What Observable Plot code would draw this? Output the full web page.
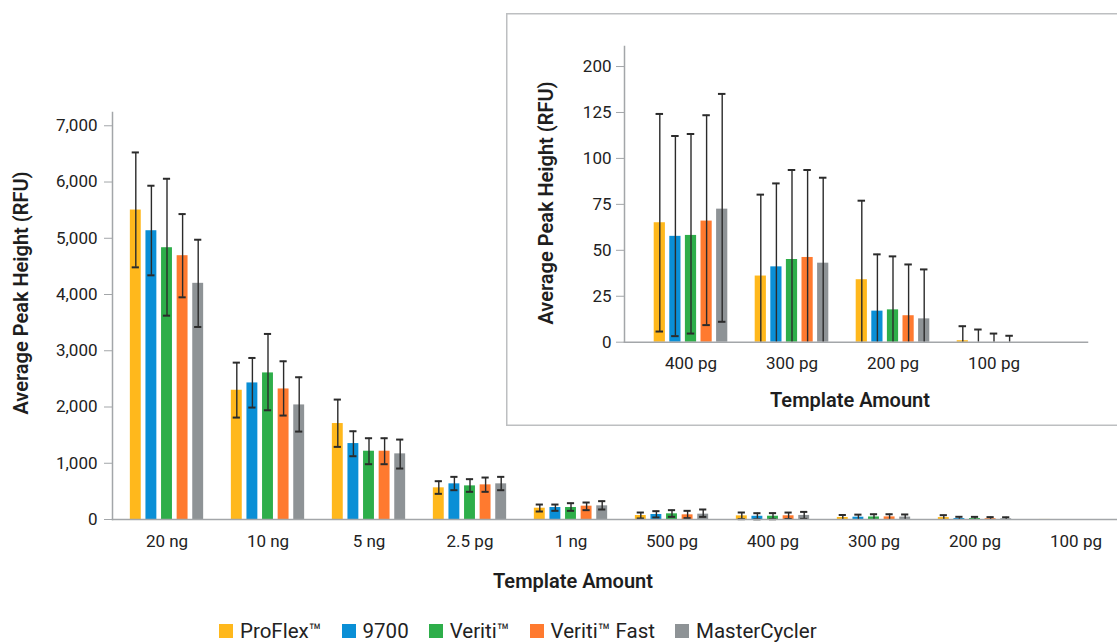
<!DOCTYPE html>
<html>
<head>
<meta charset="utf-8">
<script src="https://cdn.jsdelivr.net/npm/d3@7"></script>
<script src="https://cdn.jsdelivr.net/npm/@observablehq/plot@0.6"></script>
<style>
  html, body { margin: 0; padding: 0; background: #fff; }
  #wrap { position: relative; width: 1117px; height: 644px; overflow: hidden; font-family: Roboto, "Noto Sans", sans-serif; color: #222; }
  #main { position: absolute; left: 0; top: 0; }
  #inset { position: absolute; left: 506px; top: 13px; width: 640px; height: 413px; background: #fff; box-shadow: inset 0 0 0 1.5px #bdbfc1; }
  #insetplot { position: absolute; left: 0; top: 0; }
  .ttl { position: absolute; font-size: 20px; font-weight: 600; white-space: nowrap; transform: translate(-50%, -50%); color: #1e1e1e; }
  .rot { transform: translate(-50%, -50%) rotate(-90deg); }
  #legend { position: absolute; left: 219px; top: 620px; display: flex; align-items: center; height: 22px; line-height: 22px; font-size: 20.5px; color: #222; }
  .item { display: flex; align-items: center; margin-right: 20px; }
  .sw { width: 14px; height: 14px; margin-right: 7px; }
</style>
</head>
<body>
<div id="wrap">
  <div id="main"></div>
  <div class="ttl" style="left:573px; top:581px;">Template Amount</div>
  <div class="ttl rot" style="left:21px; top:293px;">Average Peak Height (RFU)</div>
  <div id="inset"><div id="insetplot"></div></div>
  <div class="ttl" style="left:850px; top:400px;">Template Amount</div>
  <div class="ttl rot" style="left:546px; top:203px;">Average Peak Height (RFU)</div>
  <div id="legend"></div>
</div>
<script>
// ---------- data ----------
const categories = ["20 ng","10 ng","5 ng","2.5 pg","1 ng","500 pg","400 pg","300 pg","200 pg","100 pg"];
const insetCategories = ["400 pg","300 pg","200 pg","100 pg"];
const series = ["ProFlex™","9700","Veriti™","Veriti™ Fast","MasterCycler"];
const colors = ["#FFB81C","#0A8FD6","#2EAE4A","#FF7A2F","#8E9396"];

const proflexMean = [5502,2298,1706,563,201,71,65,36,34,0.8];
const proflexLow  = [4483,1812,1291,456,142,18,5.8,0,0,0];
const proflexHigh = [6526,2789,2132,681,266,124,124.2,80.3,77,8.7];

const n9700Mean = [5134,2428,1350,634,213,89,57.6,41,16.9,0];
const n9700Low  = [4341,1990,1125,521,154,36,3.3,0,0,0];
const n9700High = [5934,2872,1569,758,266,148,112.2,86.4,47.8,6.9];

const veritiMean = [4832,2606,1214,598,213,101,58.1,45,17.6,0];
const veritiLow  = [3624,1942,983,492,154,47,4.7,0,0,0];
const veritiHigh = [6058,3299,1445,717,290,166,113.3,93.7,46.7,4.7];

const fastMean = [4690,2321,1214,616,237,83,65.9,46.1,14.4,0];
const fastLow  = [3950,1848,983,492,166,24,9.3,0,0,0];
const fastHigh = [5430,2813,1445,746,302,154,123.5,93.7,42.3,3.5];

const mcMean = [4199,2037,1167,634,243,95,72.4,43,12.7,null];
const mcLow  = [3423,1563,906,521,178,47,11.1,0,0,null];
const mcHigh = [4974,2529,1421,758,326,178,135.1,89.5,39.6,null];

const mainTicks = [0,1000,2000,3000,4000,5000,6000,7000];
const insetTicks = [0,25,50,75,100,125,150];
const insetTickLabels = ["0","25","50","75","100","125","200"];

const means = [proflexMean, n9700Mean, veritiMean, fastMean, mcMean];
const lows  = [proflexLow, n9700Low, veritiLow, fastLow, mcLow];
const highs = [proflexHigh, n9700High, veritiHigh, fastHigh, mcHigh];

// ---------- chart builder ----------
function chart({cats, width, height, marginLeft, marginRight, marginTop, marginBottom, yDomain, yTicks, yFormat, xRange, yTickPadding, minCap}) {
  const step = (xRange[1] - xRange[0]) / cats.length;
  const barW = 11.7, gap = 15.6, capW = 8;
  const marks = [];
  const perSeries = series.map((s, j) => cats.map(c => {
    const i = categories.indexOf(c);
    return {cat: c, series: s, mean: means[j][i], low: lows[j][i], high: highs[j][i]};
  }).filter(d => d.mean != null));
  perSeries.forEach((data, j) => {
    const off = (j - 2) * gap;
    marks.push(Plot.barY(data, {x: "cat", y: "mean", fill: colors[j], dx: off,
      insetLeft: (step - barW) / 2, insetRight: (step - barW) / 2}));
  });
  perSeries.forEach((data, j) => {
    const off = (j - 2) * gap;
    const vis = data.filter(d => d.high > minCap);
    marks.push(Plot.ruleX(vis, {x: "cat", y1: "low", y2: "high", dx: off, stroke: "#2b2b2b", strokeWidth: 1.4}));
    marks.push(Plot.tickY(vis, {x: "cat", y: "high", dx: off, inset: (step - capW) / 2, stroke: "#2b2b2b", strokeWidth: 2}));
    marks.push(Plot.tickY(vis.filter(d => d.low > 0), {x: "cat", y: "low", dx: off, inset: (step - capW) / 2, stroke: "#2b2b2b", strokeWidth: 2}));
  });
  marks.push(Plot.frame({anchor: "left", stroke: "#a3a6a9", strokeWidth: 1.5}));
  marks.push(Plot.frame({anchor: "bottom", stroke: "#a3a6a9", strokeWidth: 1.5}));
  marks.push(Plot.axisY({ticks: yTicks, tickFormat: yFormat, tickSize: 8, tickPadding: yTickPadding, stroke: "#a3a6a9", label: null}));
  marks.push(Plot.axisX({tickSize: 0, tickPadding: 15, label: null}));
  return Plot.plot({
    width, height, marginLeft, marginRight, marginTop, marginBottom,
    style: {fontFamily: "Roboto, 'Noto Sans', sans-serif", fontSize: "17px", color: "#222", background: "transparent", overflow: "visible"},
    x: {domain: cats, range: xRange, padding: 0},
    y: {domain: yDomain},
    marks
  });
}

const mainPlot = chart({
  cats: categories, width: 1117, height: 600,
  marginLeft: 112, marginRight: 0, marginTop: 112, marginBottom: 81,
  yDomain: [0, 7236], yTicks: mainTicks, yFormat: d3.format(","),
  xRange: [112, 1130], yTickPadding: 7, minCap: 15
});
document.getElementById("main").appendChild(mainPlot);

const insetPlot = chart({
  cats: insetCategories, width: 611, height: 412,
  marginLeft: 118, marginRight: 30, marginTop: 33, marginBottom: 83.3,
  yDomain: [0, 160.9], yTicks: insetTicks, yFormat: (d) => insetTickLabels[insetTicks.indexOf(d)],
  xRange: [132.75, 538.75], yTickPadding: 5, minCap: 0
});
document.getElementById("insetplot").appendChild(insetPlot);

// ---------- legend ----------
const legend = document.getElementById("legend");
series.forEach((s, j) => {
  const item = document.createElement("div");
  item.className = "item";
  const sw = document.createElement("div");
  sw.className = "sw";
  sw.style.background = colors[j];
  const t = document.createElement("span");
  t.textContent = s;
  item.appendChild(sw);
  item.appendChild(t);
  legend.appendChild(item);
});
</script>
</body>
</html>
